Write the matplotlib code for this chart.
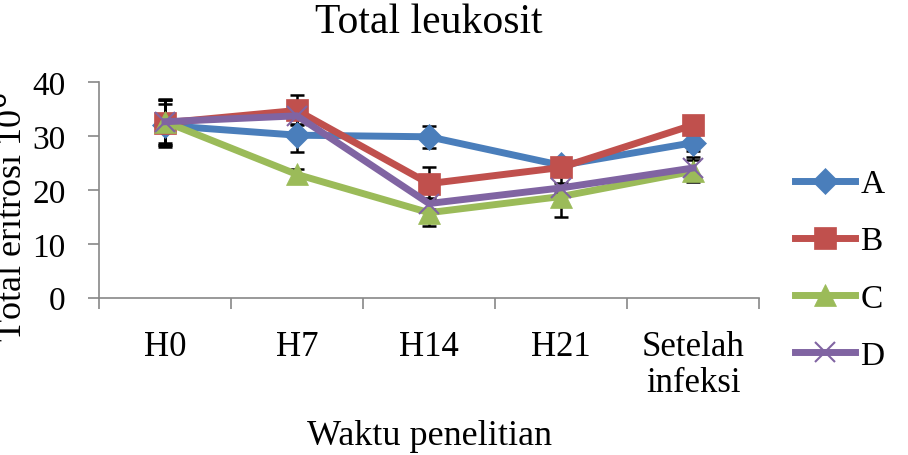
import matplotlib.pyplot as plt
import numpy as np

plt.rcParams['font.family'] = ['Liberation Serif', 'DejaVu Serif']

# data
kategori = ['H0', 'H7', 'H14', 'H21', 'Setelah\ninfeksi']
nilai_A = [32.0, 30.2, 29.9, 24.6, 28.8]
nilai_B = [32.5, 34.8, 21.2, 24.2, 32.1]
nilai_C = [32.7, 22.9, 15.8, 18.8, 23.5]
nilai_D = [32.7, 33.8, 17.5, 20.4, 24.1]
err_A = [4.0, 3.2, 2.0, 1.2, 1.5]
err_B = [4.2, 2.8, 3.0, 1.5, 1.2]
err_C = [4.3, 1.0, 2.4, 3.8, 2.0]
err_D = [4.0, 1.5, 1.0, 1.0, 2.0]

seri = [
    ('A', nilai_A, err_A, '#4A7EBB', 'D', 13),
    ('B', nilai_B, err_B, '#C0504D', 's', 16),
    ('C', nilai_C, err_C, '#9BBB59', '^', 16),
    ('D', nilai_D, err_D, '#8064A2', 'x', 14),
]

fig = plt.figure(figsize=(9.08, 4.56), dpi=100)
ax = fig.add_axes([0.109, 0.345, 0.727, 0.472])

x = np.arange(len(kategori))
for nama, y, e, warna, mk, ms in seri:
    ax.errorbar(x, y, yerr=e, fmt='none', ecolor='black', elinewidth=1.8,
                capsize=5, capthick=1.8, zorder=2)
for nama, y, e, warna, mk, ms in seri:
    ax.plot(x, y, color=warna, lw=5, marker=mk, ms=ms,
            mew=1.5 if mk == 'x' else 0.5, mec=warna, label=nama, zorder=3)

ax.set_xlim(-0.5, len(kategori) - 0.5)
ax.set_ylim(0, 40)
ax.set_yticks([0, 10, 20, 30, 40])
ax.set_xticks(x)
ax.set_xticklabels(kategori, fontsize=25, linespacing=1.15)
ax.set_xticks(np.arange(-0.5, len(kategori)), minor=True)
ax.tick_params(axis='x', which='major', length=0, pad=23)
ax.tick_params(axis='x', which='minor', length=8, color='#888888', width=1.2)
ax.tick_params(axis='y', labelsize=24, length=8, color='#888888', width=1.2, pad=16)

for s in ['top', 'right']:
    ax.spines[s].set_visible(False)
for s in ['left', 'bottom']:
    ax.spines[s].set_color('#888888')
    ax.spines[s].set_linewidth(1.2)

ax.set_title('Total leukosit', fontsize=30, pad=36)
ax.set_xlabel('Waktu penelitian', fontsize=26, labelpad=14)
ax.set_ylabel('Total eritrosi 10$^6$', fontsize=26)
ax.yaxis.set_label_coords(-0.104, 0.38)

leg = ax.legend(loc='center left', bbox_to_anchor=(1.055, 0.13), frameon=False,
                fontsize=24, handlelength=1.8, labelspacing=0.8, handletextpad=0.15,
                borderaxespad=0, borderpad=0)

fig.savefig('out.png', dpi=100)
